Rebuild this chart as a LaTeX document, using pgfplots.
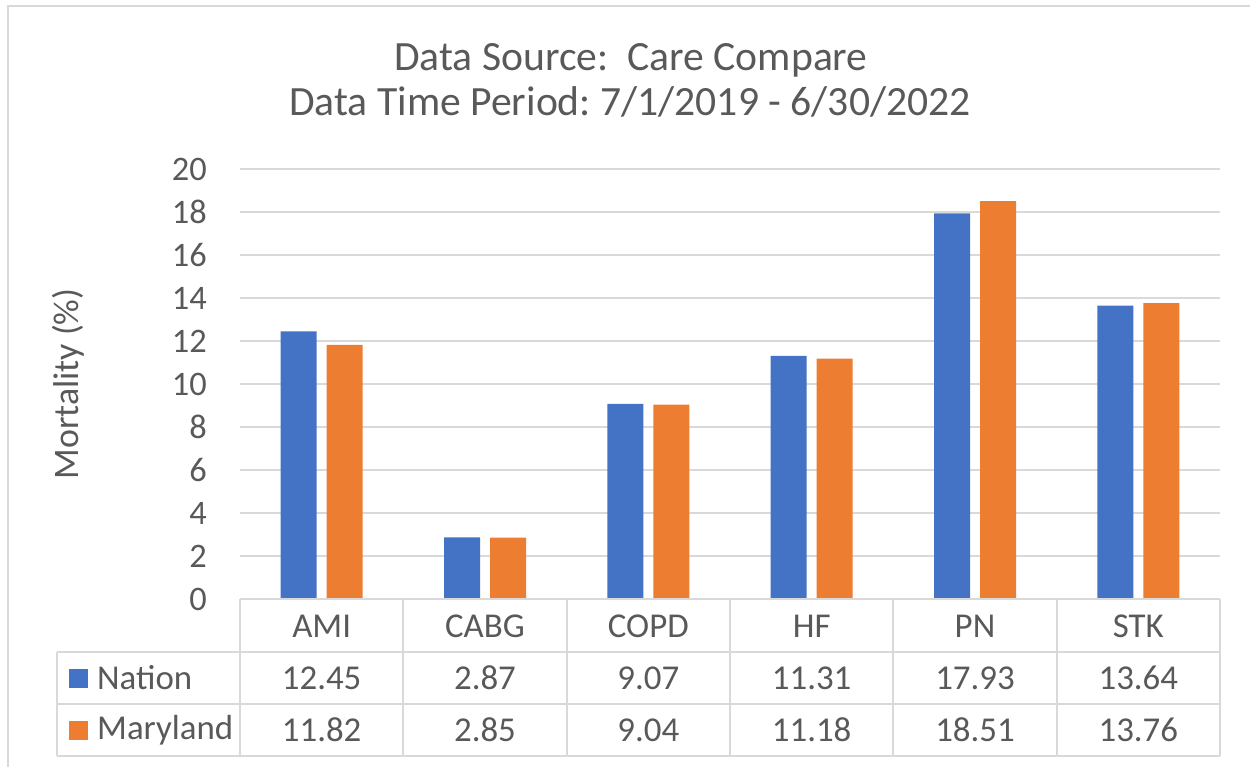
\documentclass[border=0pt]{standalone}
\usepackage{fontspec}
\setmainfont{Carlito}
\usepackage{pgfplots}
\pgfplotsset{compat=1.18}
\definecolor{nation}{HTML}{4472C4}
\definecolor{maryland}{HTML}{ED7D31}
\definecolor{gridc}{HTML}{D9D9D9}
\definecolor{txt}{HTML}{595959}
\frenchspacing
\begin{document}
\begin{tikzpicture}[x=1bp,y=1bp]
\useasboundingbox (0,0) rectangle (1250,767);
\draw[gridc, line width=2.5bp] (8,0) -- (8,761) -- (1250,761);
\begin{axis}[
  at={(240bp,168bp)}, anchor=south west,
  width=980bp, height=430bp, scale only axis,
  xmin=-0.5, xmax=5.5, ymin=0, ymax=20,
  ybar=10bp, bar width=36bp,
  axis line style={draw=none},
  ytick={0,2,...,20}, xtick=\empty,
  ymajorgrids, grid style={gridc, line width=1.5bp},
  major tick length=0pt,
  /pgf/number format/assume math mode=true,
  yticklabel style={font=\fontsize{34.5}{40}\selectfont, text=txt, anchor=east, inner sep=0pt, xshift=-33bp},
  clip=false,
]
\addplot[fill=nation, draw=none] coordinates {(0,12.45) (1,2.87) (2,9.07) (3,11.31) (4,17.93) (5,13.64)};
\addplot[fill=maryland, draw=none] coordinates {(0,11.82) (1,2.85) (2,9.04) (3,11.18) (4,18.51) (5,13.76)};
\end{axis}
% title
\node[text=txt, font=\fontsize{41.8}{47}\selectfont, anchor=base] at (631,696) {Data Source:\ \ Care Compare};
\node[text=txt, font=\fontsize{41.8}{47}\selectfont, anchor=base] at (630,651) {Data Time Period: 7/1/2019 - 6/30/2022};
% y label
\node[text=txt, font=\fontsize{36}{42}\selectfont, rotate=90] at (68,383) {Mortality (\%)};
% data table
\draw[gridc, line width=2bp] (240,168) -- (1220,168);
\draw[gridc, line width=2bp] (57,115) -- (1220,115);
\draw[gridc, line width=2bp] (57,63) -- (1220,63);
\draw[gridc, line width=2bp] (57,11) -- (1220,11);
\draw[gridc, line width=2bp] (57,115) -- (57,11);
\foreach \k in {0,...,6} {\draw[gridc, line width=2bp] ({240+\k*163.333},168) -- ({240+\k*163.333},11);}
\foreach \c [count=\k from 0] in {AMI,CABG,COPD,HF,PN,STK}
  {\node[text=txt, font=\fontsize{35}{40}\selectfont] at ({240+(\k+0.5)*163.333},141) {\c};}
\foreach \c [count=\k from 0] in {12.45,2.87,9.07,11.31,17.93,13.64}
  {\node[text=txt, font=\fontsize{35}{40}\selectfont] at ({240+(\k+0.5)*163.333},89) {\c};}
\foreach \c [count=\k from 0] in {11.82,2.85,9.04,11.18,18.51,13.76}
  {\node[text=txt, font=\fontsize{35}{40}\selectfont] at ({240+(\k+0.5)*163.333},37) {\c};}
\fill[nation] (69,79) rectangle (88,98);
\fill[maryland] (69,27) rectangle (88,46);
\node[text=txt, font=\fontsize{35}{40}\selectfont, anchor=west, inner sep=0pt] at (97,89) {Nation};
\node[text=txt, font=\fontsize{35}{40}\selectfont, anchor=west, inner sep=0pt] at (97,37) {Maryland};
\end{tikzpicture}
\end{document}
